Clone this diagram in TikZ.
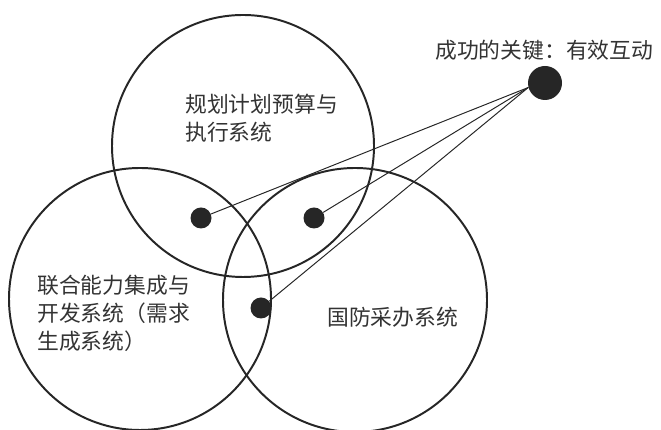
\documentclass[tikz,border=0pt]{standalone}
\usepackage{fontspec}
\setmainfont{Noto Sans CJK SC}
\tikzstyle{system}=[line width=1.4pt, black!85]
\tikzstyle{dot}=[inner sep=0pt, circle, fill=black!85, minimum size=.525cm]
\tikzstyle{key dot}=[dot, minimum size=.85cm]
\tikzstyle{sys text}=[anchor=west, inner sep=0pt, align=left, black!80, font=\fontsize{15.5}{19.9}\selectfont]
\tikzstyle{link}=[line width=.7pt, black!85]

\begin{document}
\begin{tikzpicture}[>=latex]
    \useasboundingbox (0,0) rectangle (16.525,10.75);

    % Systems
    \draw[system] (6.075,7.1) circle (3.275);
    \draw[system] (3.5,3.275) circle (3.275);
    \draw[system] (8.875,3.25) circle (3.3);

    % Texts
    \draw (4.625,7.8) node[sys text] (plan) {规划计划预算与\\执行系统};
    \draw (0.925,2.925) node[sys text] (jcids) {联合能力集成与\\开发系统（需求\\生成系统）};
    \draw (8.175,2.825) node[sys text] (acq) {国防采办系统};
    \draw (10.875,9.5) node[sys text] (keytext) {成功的关键：有效互动};

    % Intersections
    \draw (5.025,5.3) node[dot] (pj) {};
    \draw (7.85,5.3) node[dot] (pa) {};
    \draw (6.525,3.05) node[dot] (ja) {};
    \draw (13.625,8.675) node[key dot] (key) {};

    % Interaction
    \draw[link] (key.195) -- (pj);
    \draw[link] (key.195) -- (pa);
    \draw[link] (key.195) -- (ja);
\end{tikzpicture}
\end{document}
